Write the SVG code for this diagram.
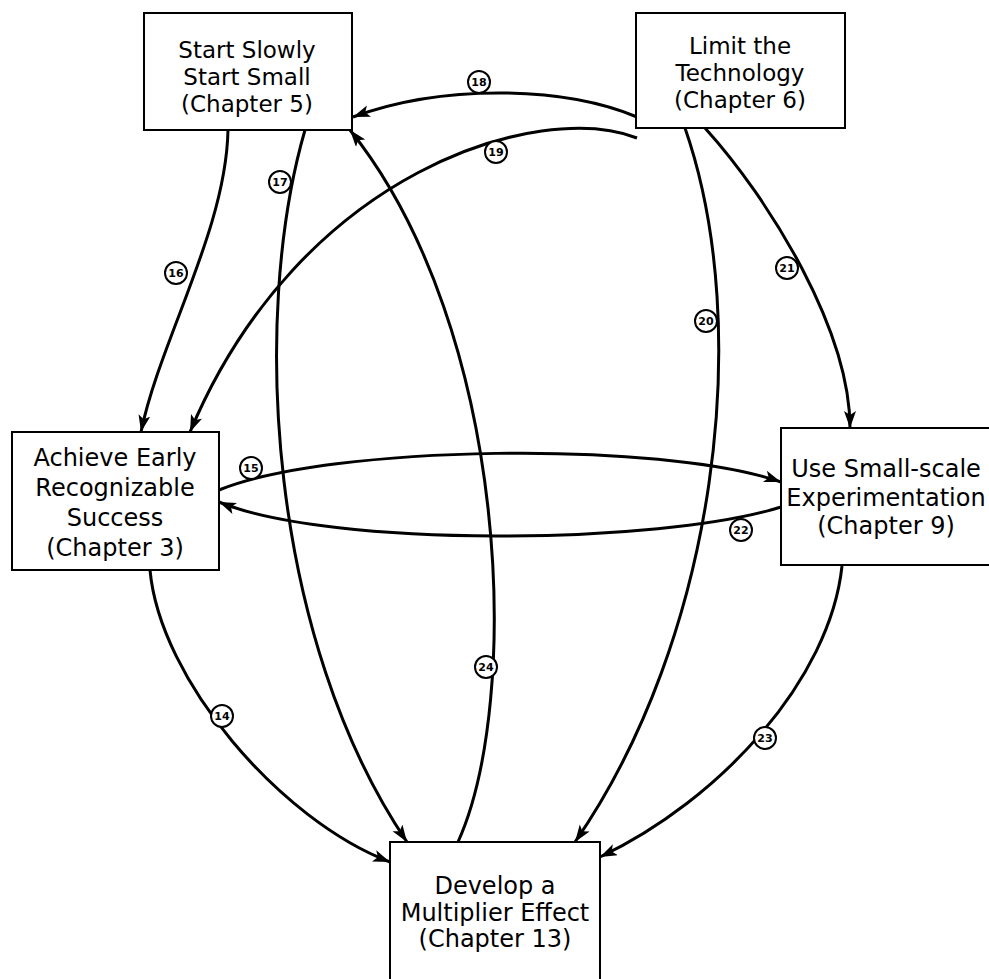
<svg xmlns="http://www.w3.org/2000/svg" width="989" height="979" viewBox="0 0 989 979">
<style>
.box{fill:#fff;stroke:#000;stroke-width:2}
.t{font-family:"DejaVu Sans","Liberation Sans",sans-serif;font-size:24px;text-anchor:middle;fill:#000}
.ts{font-size:23px}
.c{fill:none;stroke:#000;stroke-width:3;marker-end:url(#ah)}
.lc{fill:#fff;stroke:#000;stroke-width:2}
.lt{font-family:"DejaVu Sans","Liberation Sans",sans-serif;font-size:11px;font-weight:bold;text-anchor:middle;fill:#000}
</style>
<defs>
<marker id="ah" markerUnits="userSpaceOnUse" markerWidth="20" markerHeight="14" refX="17" refY="6" orient="auto">
<path d="M0,0 L17,6 L0,12 L4,6 z" fill="#000"/>
</marker>
</defs>
<rect width="989" height="979" fill="#fff"/>
<g id="connectors">
<path id="e18" class="c" d="M637,117 C560,85 440,85 353,117"/>
<path id="e19" class="c" d="M637,138 C540,100 300,170 190,432"/>
<path id="e16" class="c" d="M228,130 C226,230 160,340 141,432"/>
<path id="e17" class="c" d="M305,130 C250,320 270,640 407,842"/>
<path id="e24" class="c" d="M458,842 C522,700 510,330 350,130"/>
<path id="e20" class="c" d="M685,128 C755,330 715,640 575,842"/>
<path id="e21" class="c" d="M705,128 C770,200 850,330 850,428"/>
<path id="e23" class="c" d="M842,566 C830,680 720,800 600,857"/>
<path id="e14" class="c" d="M150,570 C160,680 280,820 390,862"/>
<path id="e15" class="c" d="M219,490 C330,445 660,440 781,482"/>
<path id="e22" class="c" d="M781,507 C660,545 330,548 219,502"/>
</g>
<g id="labels">
<g id="l14"><circle class="lc" cx="222" cy="716" r="11"/><text class="lt" x="222" y="720">14</text></g>
<g id="l15"><circle class="lc" cx="251" cy="468" r="11"/><text class="lt" x="251" y="472">15</text></g>
<g id="l16"><circle class="lc" cx="176" cy="273" r="11"/><text class="lt" x="176" y="277">16</text></g>
<g id="l17"><circle class="lc" cx="280" cy="182" r="11"/><text class="lt" x="280" y="186">17</text></g>
<g id="l18"><circle class="lc" cx="479" cy="82" r="11"/><text class="lt" x="479" y="86">18</text></g>
<g id="l19"><circle class="lc" cx="496" cy="152" r="11"/><text class="lt" x="496" y="156">19</text></g>
<g id="l20"><circle class="lc" cx="706" cy="321" r="11"/><text class="lt" x="706" y="325">20</text></g>
<g id="l21"><circle class="lc" cx="787" cy="268" r="11"/><text class="lt" x="787" y="272">21</text></g>
<g id="l22"><circle class="lc" cx="741" cy="530" r="11"/><text class="lt" x="741" y="534">22</text></g>
<g id="l23"><circle class="lc" cx="765" cy="738" r="11"/><text class="lt" x="765" y="742">23</text></g>
<g id="l24"><circle class="lc" cx="486" cy="667" r="11"/><text class="lt" x="486" y="671">24</text></g>
</g>
<g id="start">
<rect class="box" x="144" y="13" width="208" height="117"/>
<text class="t ts" x="247" y="58">Start Slowly</text>
<text class="t ts" x="247" y="85">Start Small</text>
<text class="t ts" x="247" y="112">(Chapter 5)</text>
</g>
<g id="limit">
<rect class="box" x="636" y="13" width="209" height="115"/>
<text class="t ts" x="740" y="54">Limit the</text>
<text class="t ts" x="740" y="81">Technology</text>
<text class="t ts" x="740" y="108">(Chapter 6)</text>
</g>
<g id="achieve">
<rect class="box" x="12" y="432" width="207" height="138"/>
<text class="t" x="115" y="466">Achieve Early</text>
<text class="t" x="115" y="496">Recognizable</text>
<text class="t" x="115" y="526">Success</text>
<text class="t" x="115" y="556">(Chapter 3)</text>
</g>
<g id="use">
<rect class="box" x="781" y="428" width="214" height="137"/>
<text class="t" x="886" y="477">Use Small-scale</text>
<text class="t" x="886" y="506">Experimentation</text>
<text class="t" x="886" y="534">(Chapter 9)</text>
</g>
<g id="develop">
<rect class="box" x="390" y="842" width="210" height="150"/>
<text class="t" x="495" y="894">Develop a</text>
<text class="t" x="495" y="921">Multiplier Effect</text>
<text class="t" x="495" y="947">(Chapter 13)</text>
</g>
</svg>
